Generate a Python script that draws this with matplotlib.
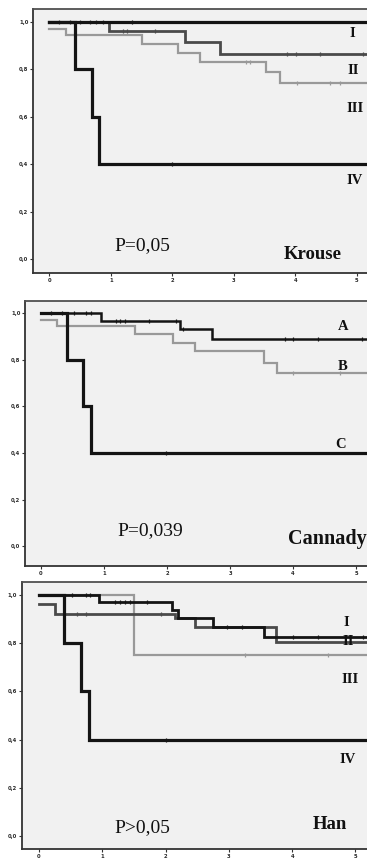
import matplotlib
matplotlib.use("Agg")
from matplotlib import pyplot as plt
from matplotlib.ticker import FuncFormatter

# Krouse staging
krouse_I_t = [0, 5.6]
krouse_I_s = [1.0, 1.0]
krouse_I_c = [1.34]
krouse_II_t = [0, 0.97, 2.2, 2.77, 5.6]
krouse_II_s = [1.0, 0.96, 0.917, 0.865, 0.865]
krouse_II_c = [0.16, 0.33, 0.5, 0.66, 0.76, 0.87, 1.2, 1.26, 1.72, 3.86, 4.01, 4.4, 5.1]
krouse_III_t = [0, 0.27, 1.5, 2.09, 2.45, 3.53, 3.75, 5.6]
krouse_III_s = [0.97, 0.945, 0.906, 0.87, 0.833, 0.787, 0.744, 0.744]
krouse_III_c = [3.2, 3.26, 4.02, 4.56, 4.73]
krouse_IV_t = [0, 0.42, 0.69, 0.81, 5.6]
krouse_IV_s = [1.0, 0.8, 0.6, 0.4, 0.4]
krouse_IV_c = [2.0]

# Cannady staging
cannady_A_t = [0, 0.96, 2.2, 2.71, 5.6]
cannady_A_s = [1.0, 0.969, 0.931, 0.889, 0.889]
cannady_A_c = [0.16, 0.34, 0.53, 0.72, 0.8, 1.19, 1.25, 1.33, 1.71, 2.15, 2.26, 3.87, 4.0, 4.4, 5.09]
cannady_B_t = [0, 0.25, 1.49, 2.09, 2.44, 3.54, 3.75, 5.6]
cannady_B_s = [0.972, 0.947, 0.91, 0.874, 0.838, 0.788, 0.745, 0.745]
cannady_B_c = [4.0, 4.75]
cannady_C_t = [0, 0.41, 0.66, 0.8, 5.6]
cannady_C_s = [1.0, 0.8, 0.6, 0.4, 0.4]
cannady_C_c = [1.98]

# Han staging
han_I_t = [0, 0.95, 2.1, 2.2, 2.75, 3.56, 5.6]
han_I_s = [1.0, 0.971, 0.939, 0.904, 0.867, 0.828, 0.828]
han_I_c = [0.52, 0.74, 0.81, 1.2, 1.28, 1.36, 1.44, 1.71, 2.97, 3.2, 4.02, 4.41, 5.12]
han_II_t = [0, 0.25, 2.15, 2.46, 3.75, 5.6]
han_II_s = [0.962, 0.922, 0.904, 0.867, 0.807, 0.807]
han_II_c = [0.6, 0.74, 1.93]
han_III_t = [0, 1.5, 5.6]
han_III_s = [1.0, 0.75, 0.75]
han_III_c = [3.25, 4.57]
han_IV_t = [0, 0.4, 0.66, 0.79, 5.6]
han_IV_s = [1.0, 0.8, 0.6, 0.4, 0.4]
han_IV_c = [2.0]

y_ticks = [0.0, 0.2, 0.4, 0.6, 0.8, 1.0]
x_ticks = [0, 1, 2, 3, 4, 5]

W, H = 367, 858
fig = plt.figure(figsize=(W / 100, H / 100), dpi=100)
fig.patch.set_facecolor("white")

serif = "Liberation Serif"
BLACK = "#141414"
DARK = "#4a4a4a"
LIGHT = "#999999"


def make_axes(x0_px, px_per_x, y1_px, px_per_y, xlim, ylim):
    # place an axes so that data coords land on the reference pixels
    left = x0_px + xlim[0] * px_per_x
    width = (xlim[1] - xlim[0]) * px_per_x
    bottom = y1_px + (1.0 - ylim[0]) * px_per_y
    height = (ylim[1] - ylim[0]) * px_per_y
    ax = fig.add_axes([left / W, (H - bottom) / H, width / W, height / H])
    ax.set_xlim(xlim)
    ax.set_ylim(ylim)
    ax.set_facecolor("#f1f1f1")
    for s in ax.spines.values():
        s.set_color("#505050")
        s.set_linewidth(1.3)
    ax.spines["left"].set_color("#333333")
    ax.spines["bottom"].set_color("#333333")
    ax.set_yticks(y_ticks)
    ax.set_xticks(x_ticks)
    ax.yaxis.set_major_formatter(FuncFormatter(lambda v, p: ("%.1f" % v).replace(".", ",")))
    ax.tick_params(axis="both", length=2.5, width=0.8, color="#333333",
                   labelsize=3.8, labelcolor="#2a2a2a", pad=1)
    for lab in ax.get_xticklabels() + ax.get_yticklabels():
        lab.set_fontweight("bold")
    return ax


def km(ax, t, s, c, color, lw):
    ax.step(t, s, where="post", color=color, lw=lw, solid_joinstyle="miter")
    # censor marks sit on the step curve
    cy = []
    for x in c:
        v = s[0]
        for ti, si in zip(t, s):
            if ti <= x:
                v = si
        cy.append(v)
    ax.plot(c, cy, ls="none", marker="|", ms=3.5, mew=0.9, color=color)


def label(ax, x, y, txt, size=10.5, weight="bold", ha="center"):
    ax.text(x, y, txt, fontsize=size, fontweight=weight, family=serif,
            ha=ha, va="center", color="#111111")


# Krouse panel
ax1 = make_axes(49.3, 61.5, 22.0, 237.0, (-0.26, 5.6), (-0.059, 1.055))
km(ax1, krouse_III_t, krouse_III_s, krouse_III_c, LIGHT, 1.6)
km(ax1, krouse_II_t, krouse_II_s, krouse_II_c, DARK, 2.0)
km(ax1, krouse_I_t, krouse_I_s, krouse_I_c, BLACK, 2.3)
km(ax1, krouse_IV_t, krouse_IV_s, krouse_IV_c, BLACK, 2.3)
label(ax1, 4.92, 0.952, "I")
label(ax1, 4.94, 0.794, "II")
label(ax1, 4.97, 0.637, "III")
label(ax1, 4.97, 0.333, "IV")
label(ax1, 1.52, 0.055, "P=0,05", size=14, weight="normal")
label(ax1, 4.29, 0.02, "Krouse", size=13.5)

# Cannady panel
ax2 = make_axes(41.0, 63.0, 313.3, 233.0, (-0.25, 5.6), (-0.086, 1.053))
km(ax2, cannady_B_t, cannady_B_s, cannady_B_c, LIGHT, 1.6)
km(ax2, cannady_A_t, cannady_A_s, cannady_A_c, BLACK, 1.8)
km(ax2, cannady_C_t, cannady_C_s, cannady_C_c, BLACK, 2.3)
label(ax2, 4.79, 0.944, "A")
label(ax2, 4.79, 0.773, "B")
label(ax2, 4.75, 0.436, "C")
label(ax2, 1.73, 0.066, "P=0,039", size=14, weight="normal")
label(ax2, 3.92, 0.03, "Cannady", size=14.5, ha="left")

# Han panel
ax3 = make_axes(39.0, 63.3, 595.3, 240.4, (-0.27, 5.6), (-0.057, 1.054))
km(ax3, han_III_t, han_III_s, han_III_c, LIGHT, 1.6)
km(ax3, han_II_t, han_II_s, han_II_c, DARK, 2.0)
km(ax3, han_I_t, han_I_s, han_I_c, BLACK, 2.0)
km(ax3, han_IV_t, han_IV_s, han_IV_c, BLACK, 2.3)
label(ax3, 4.86, 0.885, "I")
label(ax3, 4.88, 0.808, "II")
label(ax3, 4.91, 0.649, "III")
label(ax3, 4.88, 0.315, "IV")
label(ax3, 1.64, 0.033, "P>0,05", size=14, weight="normal")
label(ax3, 4.6, 0.047, "Han", size=13.5)

fig.savefig("out.png", dpi=100)
